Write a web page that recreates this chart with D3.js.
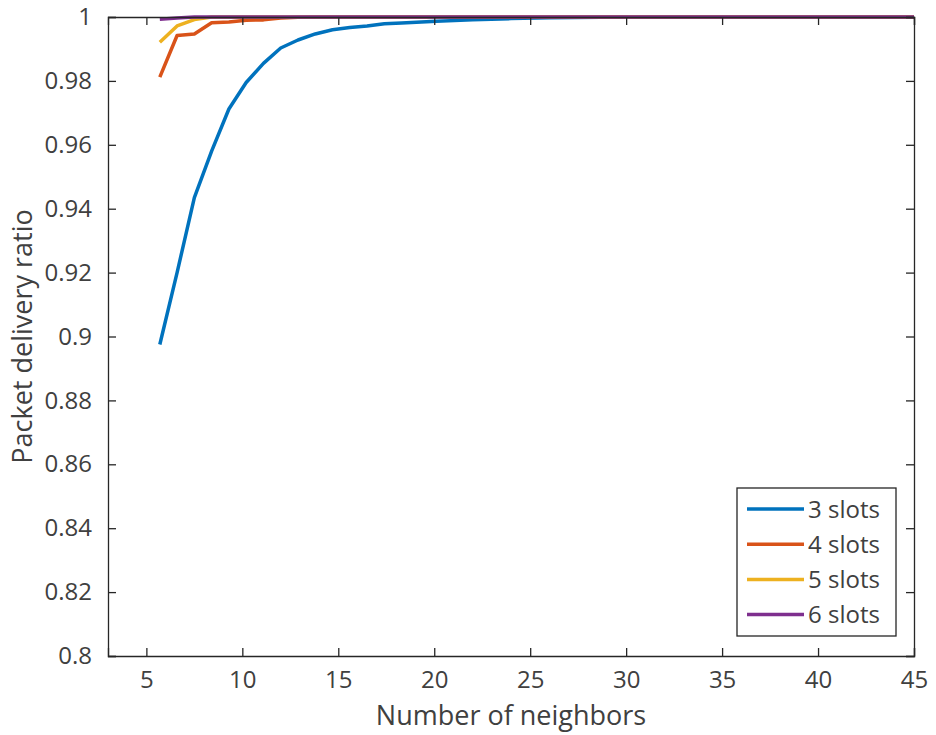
<!DOCTYPE html>
<html>
<head>
<meta charset="utf-8">
<script src="https://cdn.jsdelivr.net/npm/d3@7"></script>
<style>
  body { margin: 0; background: #fff; }
  text { font-family: "Open Sans", "DejaVu Sans", sans-serif; fill: #404040; }
</style>
</head>
<body>
<svg id="chart" width="936" height="735"></svg>
<script>
// number of neighbors (x) shared by all series
const neighbors = [5.7, 6.6, 7.5, 8.4, 9.3, 10.2, 11.1, 12.0, 12.9, 13.8, 14.7, 15.6, 16.5, 17.4, 18.3, 20.1, 22.0, 24.0, 26.0, 30, 35, 40, 45];

const slots3 = [0.8975, 0.9200, 0.9435, 0.9580, 0.9712, 0.9795, 0.9855, 0.9903, 0.9928, 0.9947, 0.9960, 0.9967, 0.9972, 0.9979, 0.9981, 0.9987, 0.9991, 0.9995, 0.9998, 1, 1, 1, 1];
const slots4 = [0.9812, 0.9942, 0.9947, 0.9982, 0.9984, 0.9990, 0.9991, 0.9997, 0.9999, 1, 1, 1, 1, 1, 1, 1, 1, 1, 1, 1, 1, 1, 1];
const slots5 = [0.9921, 0.9972, 0.9992, 1, 1, 1, 1, 1, 1, 1, 1, 1, 1, 1, 1, 1, 1, 1, 1, 1, 1, 1, 1];
const slots6 = [0.9993, 0.9997, 1, 1, 1, 1, 1, 1, 1, 1, 1, 1, 1, 1, 1, 1, 1, 1, 1, 1, 1, 1, 1];

const seriesNames = ["3 slots", "4 slots", "5 slots", "6 slots"];
const seriesColors = ["#0072BD", "#D95319", "#EDB120", "#7E2F8E"];

const xTicks = [5, 10, 15, 20, 25, 30, 35, 40, 45];
const yTicks = [0.8, 0.82, 0.84, 0.86, 0.88, 0.9, 0.92, 0.94, 0.96, 0.98, 1];

const pLeft = 108, pRight = 914, pTop = 17, pBottom = 656;
const axisColor = "#262626";

const svg = d3.select("#chart");

const x = d3.scaleLinear().domain([3, 45]).range([pLeft, pRight]);
const y = d3.scaleLinear().domain([0.8, 1]).range([pBottom, pTop]);

// lines first, axes box on top
const plot = svg.append("g");
const line = d3.line().x(d => x(d[0])).y(d => y(d[1]));
[slots3, slots4, slots5, slots6].forEach((vals, i) => {
    plot.append("path")
        .datum(neighbors.map((n, j) => [n, vals[j]]))
        .attr("d", line)
        .attr("fill", "none")
        .attr("stroke", seriesColors[i])
        .attr("stroke-width", 3.5)
        .attr("stroke-linejoin", "round");
});

const fmt = d => String(+d.toFixed(2));

// bottom axis
const xAxis = svg.append("g")
    .attr("transform", `translate(0,${pBottom})`)
    .call(d3.axisBottom(x).tickValues(xTicks).tickSize(-8).tickPadding(15).tickFormat(d3.format("d")));
// left axis
const yAxis = svg.append("g")
    .attr("transform", `translate(${pLeft},0)`)
    .call(d3.axisLeft(y).tickValues(yTicks).tickSize(-8).tickPadding(16).tickFormat(fmt));
// top and right (MATLAB box)
const xTop = svg.append("g")
    .attr("transform", `translate(0,${pTop})`)
    .call(d3.axisTop(x).tickValues(xTicks).tickSize(-8).tickFormat(""));
const yRight = svg.append("g")
    .attr("transform", `translate(${pRight},0)`)
    .call(d3.axisRight(y).tickValues(yTicks).tickSize(-8).tickFormat(""));

[xAxis, yAxis, xTop, yRight].forEach(g => {
    g.select(".domain").attr("stroke", axisColor).attr("stroke-width", 1.3);
    g.selectAll(".tick line").attr("stroke", axisColor).attr("stroke-width", 1.3);
    g.selectAll(".tick text")
        .attr("font-size", 24)
        .attr("fill", "#404040")
        .attr("font-family", "'Open Sans', sans-serif");
});

// axis labels
svg.append("text")
    .attr("x", (pLeft + pRight) / 2)
    .attr("y", 725)
    .attr("text-anchor", "middle")
    .attr("font-size", 27)
    .text("Number of neighbors");

svg.append("text")
    .attr("transform", `translate(32,${(pTop + pBottom) / 2}) rotate(-90)`)
    .attr("text-anchor", "middle")
    .attr("font-size", 27)
    .text("Packet delivery ratio");

// legend
const lg = svg.append("g").attr("transform", "translate(737,488)");
lg.append("rect")
    .attr("width", 159)
    .attr("height", 148)
    .attr("fill", "#fff")
    .attr("stroke", axisColor)
    .attr("stroke-width", 1.3);
seriesNames.forEach((name, i) => {
    const cy = 21 + i * 35.2;
    lg.append("line")
        .attr("x1", 10).attr("x2", 67)
        .attr("y1", cy).attr("y2", cy)
        .attr("stroke", seriesColors[i])
        .attr("stroke-width", 3.5);
    lg.append("text")
        .attr("x", 71)
        .attr("y", cy + 8.5)
        .attr("font-size", 24)
        .attr("fill", "#262626")
        .text(name);
});
</script>
</body>
</html>
